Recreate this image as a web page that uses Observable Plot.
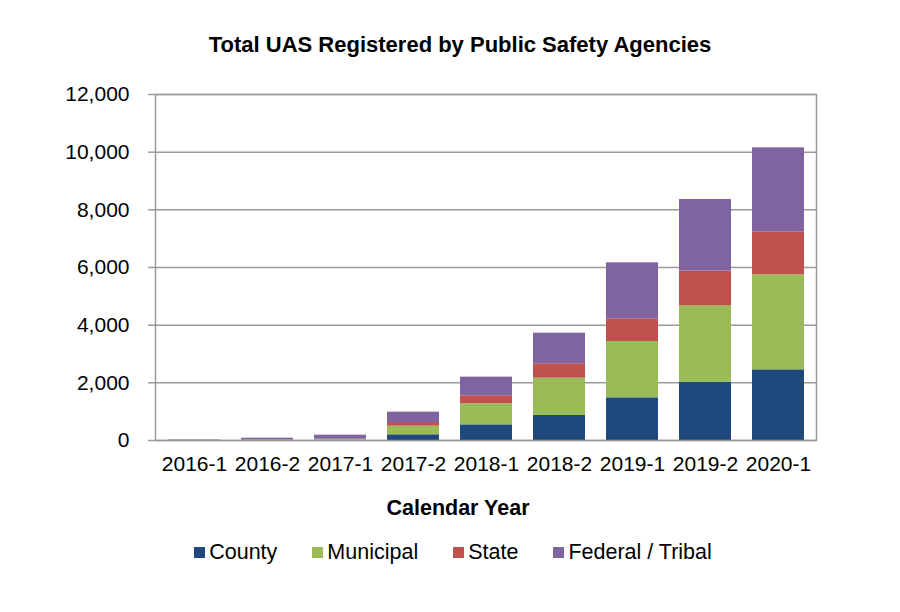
<!DOCTYPE html>
<html>
<head>
<meta charset="utf-8">
<script src="https://cdn.jsdelivr.net/npm/d3@7"></script>
<script src="https://cdn.jsdelivr.net/npm/@observablehq/plot@0.6"></script>
<style>
  html, body { margin: 0; padding: 0; background: #fff; }
  #wrap { position: relative; width: 900px; height: 612px; font-family: "Liberation Sans", Arial, sans-serif; color: #000; }
  #wrap svg { position: absolute; left: 0; top: 0; }
  .title { position: absolute; left: 0; width: 920px; top: 32px; text-align: center; font-weight: bold; font-size: 22px; }
  .xlabel { position: absolute; left: 0; width: 916px; top: 496px; text-align: center; font-weight: bold; font-size: 21.5px; }
  .legend { position: absolute; left: 0; width: 906px; top: 540px; display: flex; justify-content: center; gap: 35px; font-size: 21.5px; }
  .legend .item { display: flex; align-items: center; gap: 4px; }
  .legend .sw { width: 11px; height: 11px; display: inline-block; }
</style>
</head>
<body>
<div id="wrap">
  <div class="title">Total UAS Registered by Public Safety Agencies</div>
  <div class="xlabel">Calendar Year</div>
  <div class="legend" id="legend"></div>
</div>
<script>
const periods = ["2016-1","2016-2","2017-1","2017-2","2018-1","2018-2","2019-1","2019-2","2020-1"];
const agencies = ["County","Municipal","State","Federal / Tribal"];
const colors = ["#1F497D","#9BBB59","#C0504D","#8064A2"];
const county    = [2, 5, 10, 197, 543, 867, 1480, 2023, 2451];
const municipal = [4, 10, 25, 300, 729, 1294, 1954, 2648, 3295];
const state     = [1, 5, 10, 127, 277, 499, 786, 1202, 1479];
const federal   = [13, 60, 140, 359, 648, 1062, 1942, 2485, 2925];
const yTicks = [0, 2000, 4000, 6000, 8000, 10000, 12000];

const series = [county, municipal, state, federal];
const rows = [];
periods.forEach((p, i) => {
  agencies.forEach((a, j) => rows.push({period: p, agency: a, value: series[j][i]}));
});

const chart = Plot.plot({
  width: 900,
  height: 612,
  marginLeft: 155,
  marginRight: 84,
  marginTop: 94,
  marginBottom: 172,
  style: {fontFamily: '"Liberation Sans", Arial, sans-serif', fontSize: "21px", color: "#000", background: "transparent"},
  x: {domain: periods, paddingInner: 0.29, paddingOuter: 0.145, label: null},
  y: {domain: [0, 12000], label: null},
  color: {domain: agencies, range: colors},
  marks: [
    Plot.ruleY(yTicks, {stroke: "#9a9a9a", strokeWidth: 1.5}),
    Plot.barY(rows, {x: "period", y: "value", fill: "agency", order: agencies}),
    Plot.frame({stroke: "#9a9a9a", strokeWidth: 1.5}),
    Plot.axisY({ticks: yTicks, tickSize: 7, tickPadding: 19, stroke: "#9a9a9a", strokeWidth: 1.5, tickFormat: d3.format(","), label: null, fill: "#000"}),
    Plot.axisX({tickSize: 0, tickPadding: 16, label: null, fill: "#000"})
  ]
});
document.getElementById("wrap").prepend(chart);

const leg = document.getElementById("legend");
agencies.forEach((a, i) => {
  const it = document.createElement("div");
  it.className = "item";
  const sw = document.createElement("span");
  sw.className = "sw";
  sw.style.background = colors[i];
  const t = document.createElement("span");
  t.textContent = a;
  it.append(sw, t);
  leg.append(it);
});
</script>
</body>
</html>
